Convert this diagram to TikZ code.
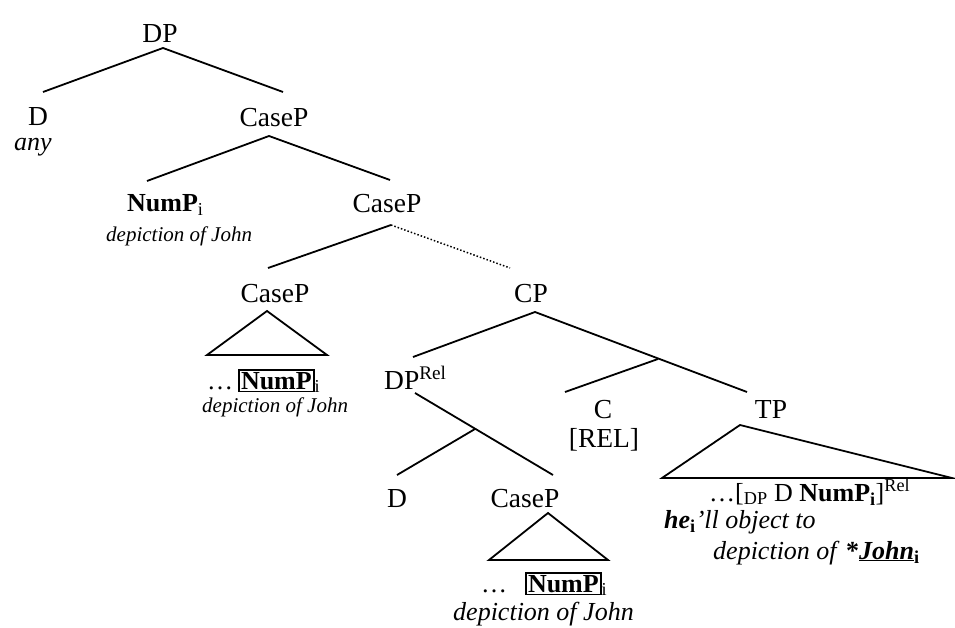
\documentclass[tikz,border=0pt]{standalone}
\usepackage{fontspec}
\setmainfont{Liberation Serif}
\begin{document}
\begin{tikzpicture}[x=1pt,y=-1pt,
  lbl/.style={anchor=base, inner sep=0pt, font=\fontsize{27.5}{31}\selectfont},
  lblw/.style={anchor=base west, inner sep=0pt, font=\fontsize{26}{30}\selectfont},
  tptext/.style={anchor=base west, inner sep=0pt, font=\fontsize{26}{30}\selectfont},
  smit/.style={anchor=base west, inner sep=0pt, font=\fontsize{21}{25}\selectfont\itshape},
  branch/.style={line width=1.8pt},
  dotbranch/.style={line width=1.5pt, dash pattern=on 1.5pt off 2pt},
  tri/.style={line width=1.8pt, line join=miter}]
\useasboundingbox (0,0) rectangle (955,628);
\setlength{\fboxrule}{1.6pt}\setlength{\fboxsep}{1.2pt}
% labels
\node[lbl] (dp) at (160,43) {DP};
\node[lbl] (d1) at (38,126) {D};
\node[lbl, font=\fontsize{26}{30}\selectfont\itshape] (any) at (33,151) {any};
\node[lbl] (case1) at (274,127) {CaseP};
\node[lblw] (nump1) at (127,212) {\textbf{NumP}\textsubscript{i}};
\node[smit] (john1) at (106,242) {depiction of John};
\node[lbl] (case2) at (387,213) {CaseP};
\node[lbl] (case3) at (275,302) {CaseP};
\node[lblw] (nump2) at (207,389) {…\hspace{5pt}\fbox{\textbf{NumP}}\textsubscript{i}};
\node[smit] (john2) at (202,412) {depiction of John};
\node[lbl] (cp) at (531,302) {CP};
\node[lblw, font=\fontsize{27.5}{31}\selectfont] (dprel) at (384,389) {DP\textsuperscript{Rel}};
\node[lbl] (c) at (603,418) {C};
\node[lbl] (rel) at (604,447) {[REL]};
\node[lbl] (tp) at (771,418) {TP};
\node[lbl] (d2) at (397,507) {D};
\node[lbl] (case4) at (525,507) {CaseP};
\node[lblw] (nump3) at (481,592) {…\hspace{18pt}\fbox{\textbf{NumP}}\textsubscript{i}};
\node[lblw, font=\fontsize{26}{30}\selectfont\itshape] (john3) at (453,620) {depiction of John};
\node[tptext] (tpcont) at (709,501) {…[\textsubscript{DP} D \textbf{NumP\textsubscript{i}}]\textsuperscript{Rel}};
\node[tptext] (he) at (664,528) {\textbf{\textit{he}}\textsubscript{\textbf{i}}\textit{’ll object to}};
\node[tptext] (john4) at (713,559) {\textit{depiction of }\textbf{*\underline{\textit{John}}}\textsubscript{\textbf{i}}};
% coordinates
\coordinate (dpA) at (163,48);
\coordinate (dpL) at (43,92);
\coordinate (dpR) at (283,92);
\coordinate (c1A) at (269,136);
\coordinate (c1L) at (147,181);
\coordinate (c1R) at (390,180);
\coordinate (c2A) at (391,225);
\coordinate (c2L) at (268,268);
\coordinate (c2R) at (510,268);
\coordinate (t1A) at (267,311);
\coordinate (t1L) at (207,355);
\coordinate (t1R) at (327,355);
\coordinate (cpA) at (535,312);
\coordinate (cpL) at (413,357);
\coordinate (cpR) at (747,392);
\coordinate (cbar) at (658,359);
\coordinate (cC) at (565,392);
\coordinate (drA) at (415,393);
\coordinate (drR) at (553,475);
\coordinate (dbar) at (475,429);
\coordinate (drL) at (397,475);
\coordinate (t2A) at (548,513);
\coordinate (t2L) at (489,560);
\coordinate (t2R) at (608,560);
\coordinate (t3A) at (740,425);
\coordinate (t3L) at (662,478);
\coordinate (t3R) at (952,478);
% branches
\draw[branch] (dpL) -- (dpA) -- (dpR);
\draw[branch] (c1L) -- (c1A) -- (c1R);
\draw[branch] (c2L) -- (c2A);
\draw[dotbranch] (c2A) -- (c2R);
\draw[tri] (t1A) -- (t1L) -- (t1R) -- cycle;
\draw[branch] (cpL) -- (cpA) -- (cpR);
\draw[branch] (cbar) -- (cC);
\draw[branch] (drA) -- (drR);
\draw[branch] (dbar) -- (drL);
\draw[tri] (t2A) -- (t2L) -- (t2R) -- cycle;
\draw[tri] (t3A) -- (t3L) -- (t3R) -- cycle;
\end{tikzpicture}
\end{document}
